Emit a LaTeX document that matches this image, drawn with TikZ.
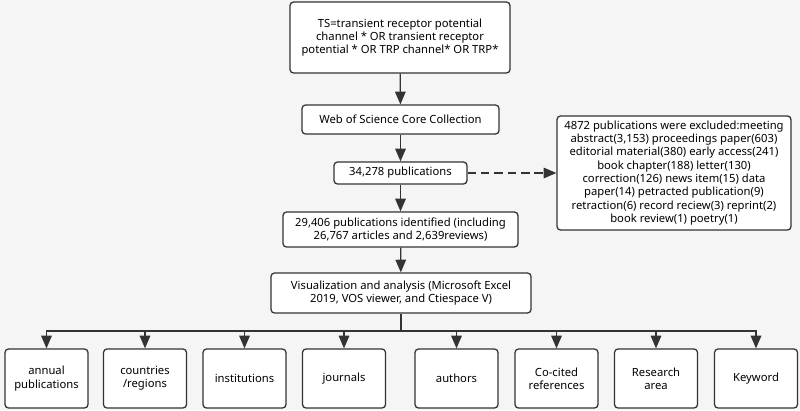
\documentclass[tikz,border=0pt]{standalone}
\usepackage{fontspec}
\setmainfont{Noto Sans}
\usetikzlibrary{arrows.meta}
\definecolor{bggray}{RGB}{245,245,245}
\definecolor{linegray}{RGB}{51,51,51}
\tikzset{
  box/.style={draw=linegray, line width=0.9pt, fill=white, rounded corners=2.5pt,
    align=center, inner sep=1pt, font=\fontsize{8}{9.5}\selectfont},
  smallbox/.style={box, minimum width=83*0.025cm, minimum height=59*0.025cm},
  arr/.style={draw=linegray, line width=0.9pt,
    -{Triangle[length=9pt, width=7.5pt]}},
}
\begin{document}
\begin{tikzpicture}[x=0.025cm, y=-0.025cm]
    % Background and fixed size
    \fill[bggray] (0,0) rectangle (800,410);
    \useasboundingbox (0,0) rectangle (800,410);

    % Main chain
    \node[box, minimum width=220*0.025cm, minimum height=71*0.025cm] (query) at (400,37.5)
      {TS=transient receptor potential\\channel * OR transient receptor\\potential * OR TRP channel* OR TRP*};
    \node[box, minimum width=197*0.025cm, minimum height=29*0.025cm] (wos) at (400.5,119.5)
      {Web of Science Core Collection};
    \node[box, minimum width=133*0.025cm, minimum height=22*0.025cm] (pubs) at (400.5,173)
      {34,278 publications};
    \node[box, minimum width=235*0.025cm, minimum height=35*0.025cm] (ident) at (400.5,229.5)
      {29,406 publications identified (including\\26,767 articles and 2,639reviews)};
    \node[box, minimum width=260*0.025cm, minimum height=40*0.025cm] (vis) at (401,293)
      {Visualization and analysis (Microsoft Excel\\2019, VOS viewer, and Ctiespace V)};

    % Excluded records
    \node[box, minimum width=234*0.025cm, minimum height=114*0.025cm] (excl) at (674,173)
      {4872 publications were excluded:meeting\\abstract(3,153) proceedings paper(603)\\editorial material(380) early access(241)\\book chapter(188) letter(130)\\correction(126) news item(15) data\\paper(14) petracted publication(9)\\retraction(6) record reciew(3) reprint(2)\\book review(1) poetry(1)};

    % Analysis topics
    \node[smallbox] (annual) at (46.5,378.5) {annual\\publications};
    \node[smallbox] (countries) at (145,378.5) {countries\\/regions};
    \node[smallbox] (inst) at (244.5,378.5) {institutions};
    \node[smallbox] (journals) at (344,378.5) {journals};
    \node[smallbox] (authors) at (456.5,378.5) {authors};
    \node[smallbox] (cocited) at (556.5,378.5) {Co-cited\\references};
    \node[smallbox] (area) at (656,378.5) {Research\\area};
    \node[smallbox] (keyword) at (756,378.5) {Keyword};

    % Arrows
    \draw[arr] (query) -- (wos);
    \draw[arr] (wos) -- (pubs);
    \draw[arr] (pubs) -- (ident);
    \draw[arr] (ident) -- (vis);
    \draw[arr, dashed, dash pattern=on 6pt off 3.5pt] (pubs) -- (excl);

    \coordinate (bus) at (401,331);
    \draw[draw=linegray, line width=0.9pt] (vis.south) -- (bus);
    \foreach \t in {annual,countries,inst,journals,authors,cocited,area,keyword}
      \draw[arr] (bus) -| (\t.north);
\end{tikzpicture}
\end{document}
